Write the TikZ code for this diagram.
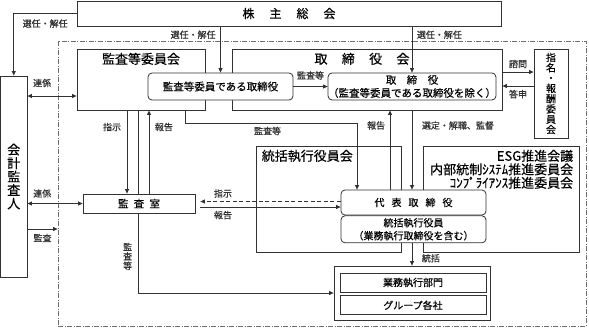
\documentclass[tikz,border=0pt]{standalone}
\usepackage{fontspec}
\setmainfont{Noto Sans CJK JP}[FakeBold=0.3]
\newfontfamily\lblfont{Noto Sans CJK JP}[FakeBold=0.8]
\usepackage{xcolor}
\usepackage{tikz}
\usetikzlibrary{arrows.meta,positioning}
\definecolor{govline}{RGB}{50,50,50}
\definecolor{govframe}{RGB}{110,110,110}

\begin{document}
\begin{tikzpicture}[x=1pt, y=-1pt,
    box/.style={rectangle, draw=govline, fill=white, line width=0.8pt,
                inner sep=0pt},
    rbox/.style={box, rounded corners=4pt, align=center,
                 font=\fontsize{10.5}{13}\selectfont},
    title/.style={inner sep=0pt, font=\fontsize{13}{13.5}\selectfont},
    lbl/.style={inner sep=1.5pt, font=\lblfont\fontsize{9}{9.5}\selectfont},
    arr/.style={-{Triangle[length=4.5pt,width=4pt]}, line width=0.8pt, govline},
    barr/.style={{Triangle[length=4.5pt,width=4pt]}-{Triangle[length=4.5pt,width=4pt]},
                 line width=0.8pt, govline},
    ln/.style={line width=0.8pt, govline},
  ]
  \useasboundingbox (0,0) rectangle (589,327);

  % 枠と株主総会
  \node[draw=govframe, line width=0.8pt, inner sep=0pt,
        dash pattern=on 5pt off 1.5pt on 1pt off 1.5pt,
        minimum width=528pt, minimum height=285pt] (frame) at (322,183.5) {};
  \node[box, minimum width=424pt, minimum height=25pt,
        font=\fontsize{12}{14}\selectfont] (sh) at (289,13.5)
    {株\hspace{1.25em}主\hspace{1.25em}総\hspace{1.25em}会};
  \node[box, minimum width=26.5pt, minimum height=201pt, align=center,
        font=\fontsize{13}{13.5}\selectfont] (kaikei) at (13.75,176.5)
    {会\\計\\監\\査\\人};

  % 取締役会まわり
  \node[box, minimum width=128pt, minimum height=61pt] (kansakai) at (141,79.5) {};
  \node[title, below=4pt of kansakai.north] (kansakai-t) {監査等委員会};
  \node[box, minimum width=270pt, minimum height=61pt] (torikai) at (367,79.5) {};
  \node[title, below=4pt of torikai.north, xshift=-5pt] (torikai-t)
    {取\hspace{1.1em}締\hspace{1.1em}役\hspace{1.1em}会};
  \node[rbox, minimum width=145pt, minimum height=27pt] (kansatori) at (220.5,86.5)
    {監査等委員である取締役};
  \node[rbox, minimum width=164pt, minimum height=27pt] (tori) at (412,86.5)
    {取\hspace{1em}締\hspace{1em}役\\（監査等委員である取締役を除く）};
  \node[box, minimum width=34pt, minimum height=89pt, align=center,
        font=\fontsize{10}{10.3}\selectfont] (shimei) at (551,93.5)
    {指\\名\\・\\報\\酬\\委\\員\\会};

  % 執行側
  \node[box, minimum width=112pt, minimum height=19pt,
        font=\fontsize{10.5}{12}\selectfont] (kansashitsu) at (139,203.5)
    {監\hspace{0.5em}査\hspace{0.5em}室};
  \node[box, minimum width=145pt, minimum height=106pt] (shikkokai) at (328.5,199) {};
  \node[title, below right=4pt and 6pt of shikkokai.north west] (shikkokai-t)
    {統括執行役員会};
  \node[box, minimum width=156pt, minimum height=106pt] (esg) at (501,199) {};
  \node[title, align=right, below left=4pt and 6pt of esg.north east] (esg-t)
    {ESG推進会議\\内部統制ｼｽﾃﾑ推進委員会\\ｺﾝﾌﾟﾗｲｱﾝｽ推進委員会};
  \node[rbox, minimum width=145pt, minimum height=25pt,
        font=\fontsize{10}{12}\selectfont] (daihyo) at (413.5,202.5)
    {代\hspace{0.7em}表\hspace{0.7em}取\hspace{0.7em}締\hspace{0.7em}役};
  \node[rbox, minimum width=145pt, minimum height=27pt,
        font=\fontsize{10}{13}\selectfont, below=0pt of daihyo] (shikkoyaku)
    {統括執行役員\\（業務執行取締役を含む）};
  \node[box, minimum width=156pt, minimum height=54pt] (grp) at (412,293) {};
  \node[box, minimum width=146pt, minimum height=19pt,
        font=\fontsize{10}{12}\selectfont] (gyomu) at (413,282.5) {業務執行部門};
  \node[box, minimum width=146pt, minimum height=19pt,
        font=\fontsize{10}{12}\selectfont, below=3pt of gyomu] (kakusha) {グループ各社};

  % 選任・解任
  \draw[arr] (sh.west) -| node[lbl, pos=0.25, below=4pt] {選任・解任} (kaikei.north);
  \draw[arr] (sh.south -| kansatori.north) --
    node[lbl, pos=0.18, left=3pt] {選任・解任} (kansatori.north);
  \draw[arr] (sh.south -| tori.north) --
    node[lbl, pos=0.18, right=3pt] {選任・解任} (tori.north);

  % 会計監査人
  \draw[barr] ([yshift=-16.5pt]kansakai.west) --
    node[lbl, pos=0.7, above=7pt] {連係} ([yshift=-16.5pt]kansakai.west -| kaikei.east);
  \draw[barr] (kansashitsu.west) --
    node[lbl, pos=0.73, above=4pt] {連係} (kansashitsu.west -| kaikei.east);
  \draw[arr] ([yshift=-52.5pt]kaikei.east) --
    node[lbl, below=3pt] {監査} ([yshift=-52.5pt]kaikei.east -| frame.west);

  % 取締役会の矢印
  \draw[arr] (kansatori.east) -- node[lbl, above=5pt] {監査等} (tori.west);
  \draw[arr] ([yshift=7.5pt]torikai.east) --
    node[lbl, above=2pt] {諮問} ([yshift=7.5pt]torikai.east -| shimei.west);
  \draw[arr] ([yshift=-6.5pt]torikai.east -| shimei.west) --
    node[lbl, below=2pt] {答申} ([yshift=-6.5pt]torikai.east);

  % 監査等委員会と監査室
  \draw[arr] ([xshift=-14pt]kansakai.south) --
    node[lbl, pos=0.2, left=4pt] {指示} ([xshift=-14pt]kansakai.south |- kansashitsu.north);
  \draw[arr] ([xshift=10pt]kansashitsu.north) --
    node[lbl, pos=0.8, right=4pt] {報告} ([xshift=10pt]kansashitsu.north |- kansakai.south);
  \draw[ln] ([xshift=-3pt]kansakai.south) -- ([xshift=-3pt]kansakai.south |- kansashitsu.north);
  \draw[arr] ([xshift=-3pt]kansakai.south |- kansashitsu.south) |-
    node[lbl, pos=0.27, left=4pt, align=center] {監\\査\\等} (grp.west);
  \draw[arr] ([xshift=44pt]kansakai.south) -- ++(0,12.5)
    -| node[lbl, pos=0.24, below=2pt] {監査等} ([xshift=-56.5pt]daihyo.north);

  % 代表取締役
  \draw[arr] ([xshift=-23.5pt]daihyo.north) --
    node[lbl, pos=0.81, left=3pt] {報告} ([xshift=-23.5pt]daihyo.north |- torikai.south);
  \draw[arr] ([xshift=-1.5pt]daihyo.north |- torikai.south) --
    node[lbl, pos=0.19, right=8pt] {選定・解職、監督} ([xshift=-1.5pt]daihyo.north);
  \draw[arr, dashed, dash pattern=on 4pt off 2.5pt, shorten >=5pt] ([yshift=1pt]daihyo.west) --
    node[lbl, pos=0.81, above=2pt] {指示} ([yshift=1pt]daihyo.west -| kansashitsu.east);
  \draw[arr, shorten <=5pt] ([yshift=-4.5pt]daihyo.west -| kansashitsu.east) --
    node[lbl, pos=0.19, below=2pt] {報告} ([yshift=-4.5pt]daihyo.west);
  \draw[arr] ([xshift=-1.5pt]shikkoyaku.south) --
    node[lbl, pos=0.67, right=8pt] {統括} ([xshift=-1.5pt]shikkoyaku.south |- grp.north);
\end{tikzpicture}
\end{document}
